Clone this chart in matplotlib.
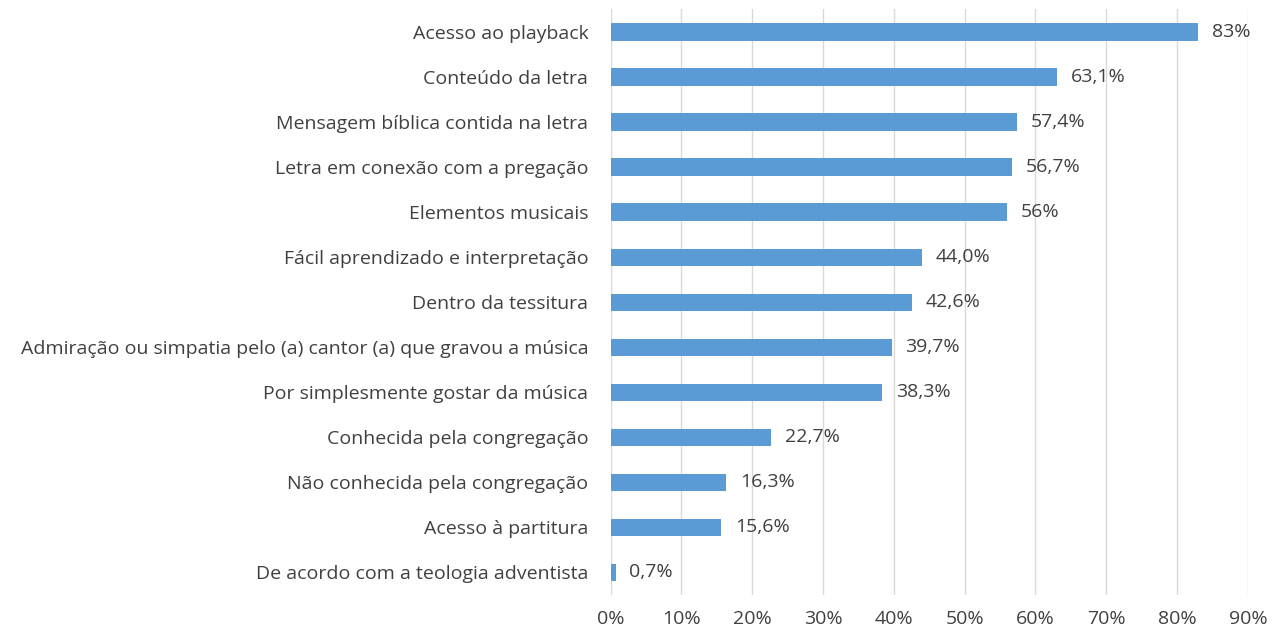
import matplotlib.pyplot as plt
from matplotlib.ticker import FuncFormatter

# Data (top to bottom)
categories = [
    "Acesso ao playback",
    "Conteúdo da letra",
    "Mensagem bíblica contida na letra",
    "Letra em conexão com a pregação",
    "Elementos musicais",
    "Fácil aprendizado e interpretação",
    "Dentro da tessitura",
    "Admiração ou simpatia pelo (a) cantor (a) que gravou a música",
    "Por simplesmente gostar da música",
    "Conhecida pela congregação",
    "Não conhecida pela congregação",
    "Acesso à partitura",
    "De acordo com a teologia adventista",
]
values = [0.83, 0.631, 0.574, 0.567, 0.56, 0.44, 0.426, 0.397, 0.383, 0.227, 0.163, 0.156, 0.007]
value_labels = ["83%", "63,1%", "57,4%", "56,7%", "56%", "44,0%", "42,6%",
                "39,7%", "38,3%", "22,7%", "16,3%", "15,6%", "0,7%"]
x_ticks = [0, 0.1, 0.2, 0.3, 0.4, 0.5, 0.6, 0.7, 0.8, 0.9]

plt.rcParams['font.family'] = ['Open Sans', 'DejaVu Sans']
text_color = '#404040'
fs = 14

fig = plt.figure(figsize=(12.72, 6.3), dpi=100)
ax = fig.add_axes([0.480, 0.056, 0.501, 0.929])

y_pos = list(range(len(categories)))
ax.barh(y_pos, values, height=0.38, color='#5B9BD5', zorder=3)

# Value labels next to bars
for y, v, lab in zip(y_pos, values, value_labels):
    ax.annotate(lab, xy=(v, y), xytext=(10, 0), textcoords='offset points',
                va='center', ha='left', fontsize=fs, color=text_color)

ax.set_yticks(y_pos)
ax.set_yticklabels(categories, fontsize=fs, color=text_color)
ax.set_ylim(len(categories) - 0.5, -0.5)

ax.set_xlim(0, 0.9)
ax.set_xticks(x_ticks)
ax.xaxis.set_major_formatter(FuncFormatter(lambda x, p: f"{x * 100:.0f}%"))
ax.tick_params(axis='x', labelsize=fs, colors=text_color, length=0, pad=11)
ax.tick_params(axis='y', length=0, pad=16)

ax.grid(axis='x', color='#D9D9D9', linewidth=1, zorder=0)
for s in ['top', 'right', 'bottom', 'left']:
    ax.spines[s].set_visible(False)

plt.savefig('out.png', dpi=100)
